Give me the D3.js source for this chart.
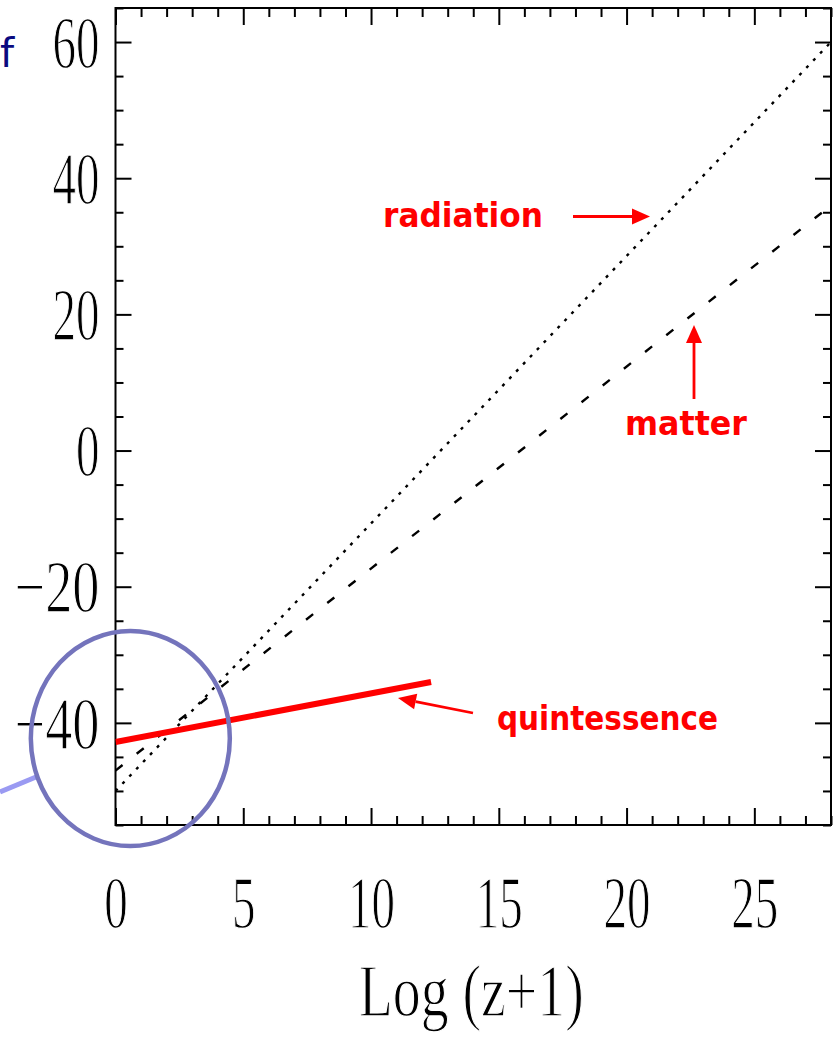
<!DOCTYPE html>
<html>
<head>
<meta charset="utf-8">
<script src="https://cdn.jsdelivr.net/npm/d3@7"></script>
<style>
  html, body { margin: 0; padding: 0; background: #ffffff; }
  svg { display: block; }
</style>
</head>
<body>
<svg id="chart" width="837" height="1037"></svg>
<script>
// Energy density of the universe's components vs Log(z+1)
const logZ        = [0, 7, 14, 21, 28];
const radiation   = [-50, -22.5, 5, 32.5, 60];
const matter      = [-47, -26.2, -5.5, 15.3, 36];
const quintX      = [0, 12.35];
const quintessence = [-42.8, -34];

const xMajorTicks = [0, 5, 10, 15, 20, 25];
const yMajorTicks = [-40, -20, 0, 20, 40, 60];
const xLabel = "Log (z+1)";

const svg = d3.select("#chart");
const plot = { left: 115.5, right: 831, top: 8, bottom: 825 };

const x = d3.scaleLinear().domain([0, 28]).range([plot.left, plot.right]);
const y = d3.scaleLinear().domain([-55, 65]).range([plot.bottom, plot.top]);

const xMinorTicks = d3.range(0, 29, 1).filter(v => !xMajorTicks.includes(v));
const yMinorTicks = d3.range(-55, 66, 5).filter(v => !yMajorTicks.includes(v));

const serif = "'Liberation Serif', 'DejaVu Serif', serif";
const labelSize = 74;

// tick label widths (narrow, tall numerals)
const digitW = 23.5;
function labelWidth(s) {
  const digits = s.replace("−", "").length;
  return digits * digitW + (s.includes("−") ? 38 : 0);
}

// thin serif strokes: a white outline eats into the glyph edges
function thinSerif(sel) {
  sel.attr("font-family", serif).attr("font-size", labelSize).attr("fill", "#000")
    .attr("stroke", "#fff").attr("stroke-width", 1.3);
}

function styleAxis(g) {
  g.select(".domain").remove();
  g.selectAll(".tick line").attr("stroke", "#000").attr("stroke-width", 2);
}

// bottom axis: minor + major ticks, labels on majors
svg.append("g").attr("transform", `translate(0,${plot.bottom})`)
  .call(d3.axisBottom(x).tickValues(xMinorTicks).tickSize(-9).tickFormat(""))
  .call(styleAxis);
const xb = svg.append("g").attr("transform", `translate(0,${plot.bottom})`)
  .call(d3.axisBottom(x).tickValues(xMajorTicks).tickSize(-17).tickFormat(d3.format("d")))
  .call(styleAxis);
xb.selectAll(".tick text")
  .attr("y", 103).attr("dy", 0)
  .call(thinSerif)
  .each(function() {
    const t = d3.select(this);
    t.attr("textLength", labelWidth(t.text())).attr("lengthAdjust", "spacingAndGlyphs");
  });

// top axis (mirrored ticks, no labels)
svg.append("g").attr("transform", `translate(0,${plot.top})`)
  .call(d3.axisTop(x).tickValues(xMinorTicks).tickSize(-9).tickFormat(""))
  .call(styleAxis);
svg.append("g").attr("transform", `translate(0,${plot.top})`)
  .call(d3.axisTop(x).tickValues(xMajorTicks).tickSize(-17).tickFormat(""))
  .call(styleAxis);

// left axis
svg.append("g").attr("transform", `translate(${plot.left},0)`)
  .call(d3.axisLeft(y).tickValues(yMinorTicks).tickSize(-8).tickFormat(""))
  .call(styleAxis);
const yl = svg.append("g").attr("transform", `translate(${plot.left},0)`)
  .call(d3.axisLeft(y).tickValues(yMajorTicks).tickSize(-16).tickPadding(16).tickFormat(d3.format("d")))
  .call(styleAxis);
yl.selectAll(".tick text")
  .attr("dy", "0.34em")
  .call(thinSerif)
  .each(function() {
    const t = d3.select(this);
    t.attr("textLength", labelWidth(t.text())).attr("lengthAdjust", "spacingAndGlyphs");
  });

// right axis (mirrored ticks)
svg.append("g").attr("transform", `translate(${plot.right},0)`)
  .call(d3.axisRight(y).tickValues(yMinorTicks).tickSize(-8).tickFormat(""))
  .call(styleAxis);
svg.append("g").attr("transform", `translate(${plot.right},0)`)
  .call(d3.axisRight(y).tickValues(yMajorTicks).tickSize(-16).tickFormat(""))
  .call(styleAxis);

// frame
svg.append("rect")
  .attr("x", plot.left).attr("y", plot.top)
  .attr("width", plot.right - plot.left).attr("height", plot.bottom - plot.top)
  .attr("fill", "none").attr("stroke", "#000").attr("stroke-width", 2);

// x-axis title
svg.append("text")
  .attr("x", (plot.left + plot.right) / 2 - 2).attr("y", 1016)
  .attr("text-anchor", "middle")
  .call(thinSerif)
  .attr("textLength", 225).attr("lengthAdjust", "spacingAndGlyphs")
  .text(xLabel);

// density curves
const line = d3.line().x(d => x(d[0])).y(d => y(d[1]));
const clipId = "plot-clip";
svg.append("clipPath").attr("id", clipId).append("rect")
  .attr("x", plot.left).attr("y", plot.top)
  .attr("width", plot.right - plot.left).attr("height", plot.bottom - plot.top);
const curves = svg.append("g").attr("clip-path", `url(#${clipId})`);

curves.append("path")
  .datum(logZ.map((v, i) => [v, radiation[i]]))
  .attr("d", line)
  .attr("fill", "none").attr("stroke", "#000").attr("stroke-width", 2.4)
  .attr("stroke-dasharray", "3,7");

curves.append("path")
  .datum(logZ.map((v, i) => [v, matter[i]]))
  .attr("d", line)
  .attr("fill", "none").attr("stroke", "#000").attr("stroke-width", 2.4)
  .attr("stroke-dasharray", "9,18");

curves.append("path")
  .datum(quintX.map((v, i) => [v, quintessence[i]]))
  .attr("d", line)
  .attr("fill", "none").attr("stroke", "#ff0000").attr("stroke-width", 6);

// annotations
const red = "#ff0000";
const annoFont = "'Comic Sans MS', 'DejaVu Sans', sans-serif";

function arrow(x1, y1, x2, y2) {
  const ang = Math.atan2(y2 - y1, x2 - x1);
  const headLen = 18, headHalf = 8;
  const bx = x2 - headLen * Math.cos(ang), by = y2 - headLen * Math.sin(ang);
  svg.append("line")
    .attr("x1", x1).attr("y1", y1).attr("x2", bx).attr("y2", by)
    .attr("stroke", red).attr("stroke-width", 2.8);
  const px = -Math.sin(ang) * headHalf, py = Math.cos(ang) * headHalf;
  svg.append("path")
    .attr("d", `M${x2},${y2}L${bx + px},${by + py}L${bx - px},${by - py}Z`)
    .attr("fill", red);
}

function note(text, xPos, yPos, width) {
  svg.append("text")
    .attr("x", xPos).attr("y", yPos)
    .attr("font-family", annoFont).attr("font-weight", "bold")
    .attr("font-size", 33).attr("fill", red)
    .attr("textLength", width).attr("lengthAdjust", "spacingAndGlyphs")
    .text(text);
}

note("radiation", 383, 227, 160);
arrow(573, 216.5, 650, 216.5);

note("matter", 625, 435, 122);
arrow(694, 399, 694, 325);

note("quintessence", 497, 730, 221);
arrow(473, 713, 398, 698);

// highlighted low-redshift region
svg.append("line")
  .attr("x1", 0).attr("y1", 792).attr("x2", 36).attr("y2", 777)
  .attr("stroke", "#9a9af2").attr("stroke-width", 5);
svg.append("ellipse")
  .attr("cx", x(0.58)).attr("cy", y(-42.3))
  .attr("rx", 99.5).attr("ry", 107.5)
  .attr("fill", "none").attr("stroke", "#7474bc").attr("stroke-width", 4.5);

// clipped word from the left margin
svg.append("text")
  .attr("x", 14).attr("y", 67)
  .attr("text-anchor", "end")
  .attr("font-family", annoFont).attr("font-size", 40).attr("fill", "#0a0a80")
  .text("f");
</script>
</body>
</html>
